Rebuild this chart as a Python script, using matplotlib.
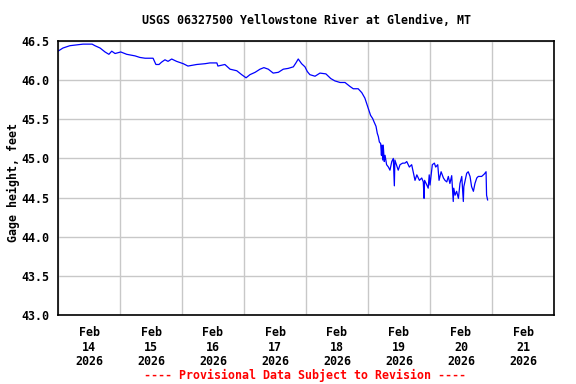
import matplotlib
matplotlib.use("Agg")
import matplotlib.pyplot as plt
from matplotlib.ticker import FixedLocator, NullFormatter, FixedFormatter

# Hours since Feb 14 2026 00:00 and gage height (feet)
hours = [0.0, 1.9, 4.6, 7.2, 9.7, 13.2, 14.3, 16.3, 18.2, 19.7, 20.8, 22.1,
         24.3, 26.6, 29.8, 31.7, 33.7, 36.8, 37.9, 39.1, 40.1, 41.4, 42.6, 44.0,
         45.9, 48.5, 50.3, 53.7, 56.9, 58.8, 61.5, 61.9, 64.6, 66.6, 69.2, 71.1,
         72.8, 74.3, 76.3, 78.2, 79.7, 81.4, 83.3, 85.3, 87.2, 89.1, 91.1, 92.1,
         93.0, 94.3, 95.6, 96.5, 97.5, 99.5, 101.4, 103.7, 105.6, 107.2, 109.2,
         111.1, 113.0, 114.3, 115.6, 116.2, 117.6, 118.8, 120.1, 121.0, 121.8,
         122.3, 123.1, 123.6, 124.0, 124.4, 124.9, 125.2, 125.4, 125.7, 125.9,
         126.3, 126.6, 127.2, 127.9, 128.5, 129.2, 129.8, 130.2, 130.4, 130.8,
         131.7, 132.4, 133.4, 134.3, 135.0, 136.0, 136.9, 137.5, 138.2, 138.9,
         139.9, 140.8, 141.4, 141.7, 141.9, 142.5, 143.3, 143.7, 144.0, 144.9,
         145.7, 146.2, 147.0, 147.5, 148.3, 149.2, 149.8, 150.5, 151.1, 151.7,
         152.4, 153.0, 153.2, 153.7, 154.3, 155.0, 155.6, 156.3, 156.9, 157.1,
         157.5, 158.2, 158.8, 159.5, 160.1, 160.8, 161.4, 162.1, 162.7, 164.0,
         165.0, 165.7, 165.9, 166.3]
gage = [46.37, 46.41, 46.44, 46.45, 46.46, 46.46, 46.44, 46.41, 46.36, 46.33, 46.37, 46.34,
        46.36, 46.33, 46.31, 46.29, 46.28, 46.28, 46.20, 46.20, 46.23, 46.26, 46.24, 46.27,
        46.24, 46.21, 46.18, 46.20, 46.21, 46.22, 46.22, 46.18, 46.20, 46.14, 46.12, 46.07,
        46.03, 46.07, 46.10, 46.14, 46.16, 46.14, 46.09, 46.10, 46.14, 46.15, 46.17, 46.22,
        46.27, 46.21, 46.17, 46.11, 46.07, 46.05, 46.09, 46.08, 46.02, 45.99, 45.97,
        45.97, 45.92, 45.89, 45.89, 45.89, 45.84, 45.77, 45.64, 45.55, 45.51,
        45.47, 45.41, 45.32, 45.28, 45.21, 45.19, 45.04, 45.17, 44.98, 45.17,
        44.96, 45.04, 44.92, 44.89, 44.85, 44.96, 45.00, 44.65, 44.98, 44.94,
        44.85, 44.92, 44.94, 44.94, 44.96, 44.89, 44.92, 44.83, 44.72, 44.79,
        44.72, 44.75, 44.70, 44.49, 44.72, 44.68, 44.62, 44.79, 44.66, 44.92,
        44.94, 44.89, 44.92, 44.72, 44.83, 44.75, 44.72, 44.70, 44.77, 44.68,
        44.78, 44.45, 44.62, 44.53, 44.58, 44.49, 44.68, 44.77, 44.45, 44.64,
        44.70, 44.81, 44.83, 44.77, 44.64, 44.58, 44.68, 44.75, 44.77, 44.77,
        44.80, 44.83, 44.53, 44.47]

day_labels = ["Feb\n14\n2026", "Feb\n15\n2026", "Feb\n16\n2026", "Feb\n17\n2026",
              "Feb\n18\n2026", "Feb\n19\n2026", "Feb\n20\n2026", "Feb\n21\n2026"]
y_ticks = [43.0, 43.5, 44.0, 44.5, 45.0, 45.5, 46.0, 46.5]

font = {"family": "DejaVu Sans Mono", "weight": "bold", "size": 8.4}

fig = plt.figure(figsize=(5.76, 3.84), dpi=100)
ax = fig.add_axes([58/576, 1 - 315/384, (554-58)/576, (315-41)/384])

ax.plot(hours, gage, color="#0000ff", linewidth=0.9)

ndays = len(day_labels)
ax.set_xlim(0, 24 * ndays)
ax.set_ylim(43.0, 46.5)

ax.xaxis.set_major_locator(FixedLocator([24 * i for i in range(ndays + 1)]))
ax.xaxis.set_major_formatter(NullFormatter())
ax.xaxis.set_minor_locator(FixedLocator([24 * i + 12 for i in range(ndays)]))
ax.xaxis.set_minor_formatter(FixedFormatter(day_labels))
ax.set_yticks(y_ticks)
ax.set_yticklabels([f"{v:.1f}" for v in y_ticks])

ax.tick_params(axis="both", which="both", length=0)
ax.tick_params(axis="x", which="minor", pad=8)
ax.tick_params(axis="y", pad=6)
for lab in ax.get_xticklabels(minor=True) + ax.get_yticklabels():
    lab.set_fontfamily(font["family"])
    lab.set_fontweight(font["weight"])
    lab.set_fontsize(font["size"])
for lab in ax.get_xticklabels(minor=True):
    lab.set_linespacing(1.15)

ax.grid(True, which="major", color="#c8c8c8", linewidth=1.0)
ax.set_axisbelow(True)
for s in ax.spines.values():
    s.set_linewidth(1.2)
    s.set_color("black")

fig.text(13/576, 1 - 183/384, "Gage height, feet", rotation=90,
         ha="center", va="center", **font)
fig.text(306/576, 1 - 20/384, "USGS 06327500 Yellowstone River at Glendive, MT",
         ha="center", va="center", **font)
fig.text(305/576, 1 - 375/384, "---- Provisional Data Subject to Revision ----",
         ha="center", va="center", color="red", **font)

fig.savefig("out.png", dpi=100)
